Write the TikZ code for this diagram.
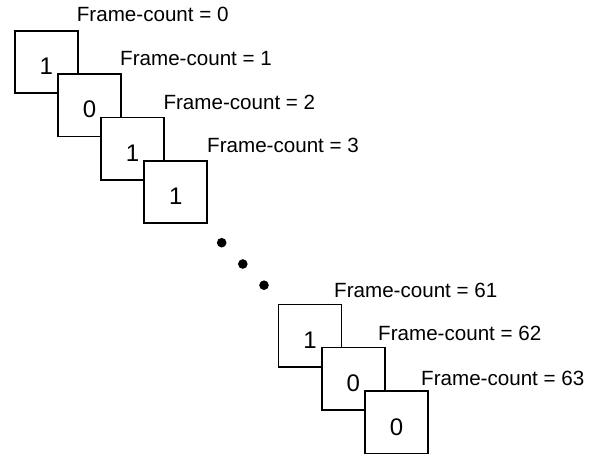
\documentclass[tikz,border=0pt]{standalone}
\usepackage{fontspec}
\setmainfont{Liberation Sans}
\begin{document}
\begin{tikzpicture}[x=1pt,y=-1pt,
  framebox/.style={draw=black,line width=1.7pt,fill=white,minimum width=63pt,minimum height=62.5pt,inner sep=0pt},
  digit/.style={inner sep=0pt,font=\fontsize{24}{24}\selectfont},
  fclabel/.style={anchor=base west,inner sep=0pt,font=\fontsize{20.6}{22}\selectfont},
  dotn/.style={circle,fill=black,minimum size=9.6pt,inner sep=0pt}]
\useasboundingbox (0,0) rectangle (596,456);
% boxes (left, top) -> centers
\node[framebox] (b1) at (46.2,62) {};
\node[digit] (n1) at ([yshift=-4.3pt]b1.center) {1};
\node[framebox] (b2) at (89.5,105.3) {};
\node[digit] (n2) at ([yshift=-4.3pt]b2.center) {0};
\node[framebox] (b3) at (132.5,148.6) {};
\node[digit] (n3) at ([yshift=-4.3pt]b3.center) {1};
\node[framebox] (b4) at (175.8,192) {};
\node[digit] (n4) at ([yshift=-4.3pt]b4.center) {1};
\node[framebox] (b5) at (310,335.6) {};
\node[digit] (n5) at ([yshift=-4.8pt]b5.center) {1};
\node[framebox] (b6) at (353.4,378.8) {};
\node[digit] (n6) at ([yshift=-4.8pt]b6.center) {0};
\node[framebox] (b7) at (396.6,422.2) {};
\node[digit] (n7) at ([yshift=-4.8pt]b7.center) {0};
% dots
\node[dotn] (d1) at (221.7,242.7) {};
\node[dotn] (d2) at (242.8,264) {};
\node[dotn] (d3) at (264,285.2) {};
% labels
\node[fclabel] (l0) at (76.7,21.7) {Frame-count = 0};
\node[fclabel] (l1) at (120,65.5) {Frame-count = 1};
\node[fclabel] (l2) at (163.3,109) {Frame-count = 2};
\node[fclabel] (l3) at (207,152) {Frame-count = 3};
\node[fclabel] (l61) at (334,297.5) {Frame-count = 61};
\node[fclabel] (l62) at (378,340.8) {Frame-count = 62};
\node[fclabel] (l63) at (421,385) {Frame-count = 63};
\end{tikzpicture}
\end{document}
